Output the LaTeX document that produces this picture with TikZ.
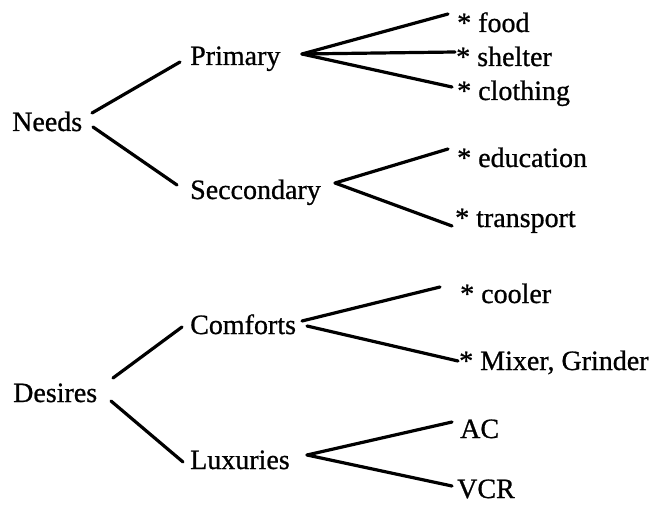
\documentclass[tikz,border=0pt]{standalone}
\usepackage{fontspec}
\setmainfont{Liberation Serif}[FakeBold=0.8]
\begin{document}
\begin{tikzpicture}[x=1pt,y=-1pt,
  lbl/.style={anchor=base west,inner sep=0pt,font=\fontsize{28}{30}\selectfont},
  conn/.style={line width=3.2pt,line cap=round}]
\useasboundingbox (0,0) rectangle (653,505);
% nodes
\node[lbl] (needs) at (12,131) {Needs};
\node[lbl] (primary) at (190,65) {Primary};
\node[lbl] (second) at (190,199) {Seccondary};
\node[lbl] (desires) at (13,402) {Desires};
\node[lbl] (comforts) at (190,334) {Comforts};
\node[lbl] (luxuries) at (190,469) {Luxuries};
\node[lbl] (food) at (457,32) {* food};
\node[lbl] (shelter) at (456,66) {* shelter};
\node[lbl] (clothing) at (457,100) {* clothing};
\node[lbl] (education) at (457,167) {* education};
\node[lbl] (transport) at (455,227) {* transport};
\node[lbl] (cooler) at (460,303) {* cooler};
\node[lbl] (mixer) at (459,370) {* Mixer, Grinder};
\node[lbl] (ac) at (460,438) {AC};
\node[lbl] (vcr) at (457,498) {VCR};
% connector ends
\coordinate (nA) at (92,113);  \coordinate (pA) at (180,62);
\coordinate (nB) at (93,127);  \coordinate (sA) at (177,185);
\coordinate (pF) at (302,54);
\coordinate (fE) at (448,14);  \coordinate (shE) at (455,52); \coordinate (cE) at (452,87);
\coordinate (sF) at (335,183);
\coordinate (edE) at (448,149); \coordinate (trE) at (452,226);
\coordinate (dA) at (113,378); \coordinate (coA) at (182,327);
\coordinate (dB) at (111,401); \coordinate (luA) at (183,462);
\coordinate (cF) at (302,321); \coordinate (cF2) at (307,326);
\coordinate (clE) at (440,287); \coordinate (mxE) at (458,361);
\coordinate (lF) at (307,455);
\coordinate (acE) at (452,422); \coordinate (vcE) at (452,486);
% connectors
\draw[conn] (nA) -- (pA);
\draw[conn] (nB) -- (sA);
\draw[conn] (pF) -- (fE);
\draw[conn] (pF) -- (shE);
\draw[conn] (pF) -- (cE);
\draw[conn] (sF) -- (edE);
\draw[conn] (sF) -- (trE);
\draw[conn] (dA) -- (coA);
\draw[conn] (dB) -- (luA);
\draw[conn] (cF) -- (clE);
\draw[conn] (cF2) -- (mxE);
\draw[conn] (lF) -- (acE);
\draw[conn] (lF) -- (vcE);
\end{tikzpicture}
\end{document}
